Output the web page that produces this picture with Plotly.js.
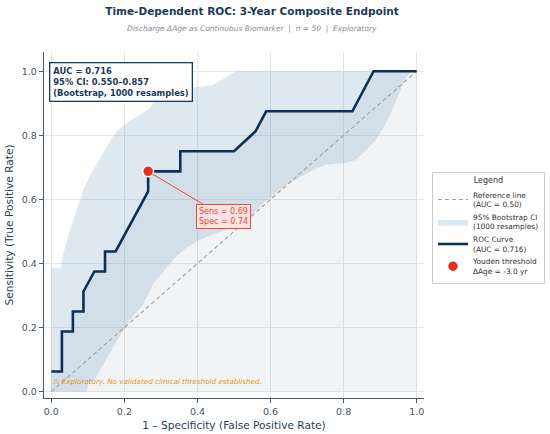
<!DOCTYPE html>
<html>
<head>
<meta charset="utf-8">
<script src="https://cdn.plot.ly/plotly-3.0.1.min.js"></script>
<style>html,body{margin:0;padding:0;background:#fff;}#chart{width:550px;height:434px;}</style>
</head>
<body>
<div id="chart"></div>
<script>
// ROC curve (FPR, TPR)
const rocFpr = [0.0, 0.029, 0.029, 0.059, 0.059, 0.088, 0.088, 0.118, 0.147, 0.147, 0.176, 0.265, 0.265, 0.353, 0.353, 0.500, 0.559, 0.588, 0.824, 0.882, 1.0];
const rocTpr = [0.0625, 0.0625, 0.1875, 0.1875, 0.25, 0.25, 0.3125, 0.375, 0.375, 0.4375, 0.4375, 0.625, 0.6875, 0.6875, 0.75, 0.75, 0.8125, 0.875, 0.875, 1.0, 1.0];

// Bootstrap CI upper bound
const ciUpperX = [0.0, 0.027, 0.031, 0.036, 0.050, 0.070, 0.088, 0.107, 0.130, 0.152, 0.175, 0.198, 0.234, 0.270, 0.289, 0.320, 0.380, 0.440, 0.470, 0.490, 0.505, 1.0];
const ciUpperY = [0.385, 0.385, 0.42, 0.445, 0.50, 0.567, 0.63, 0.676, 0.723, 0.765, 0.807, 0.832, 0.858, 0.885, 0.921, 0.935, 0.947, 0.957, 0.975, 0.99, 1.0, 1.0];

// Bootstrap CI lower bound
const ciLowerX = [0.0, 0.0975, 0.10, 0.12, 0.135, 0.16, 0.19, 0.22, 0.25, 0.28, 0.31, 0.34, 0.37, 0.40, 0.44, 0.48, 0.52, 0.545, 0.57, 0.60, 0.635, 0.67, 0.71, 0.75, 0.80, 0.83, 0.855, 0.88, 0.90, 0.925, 0.95, 0.97, 0.985, 1.0];
const ciLowerY = [0.0, 0.0, 0.02, 0.04, 0.07, 0.12, 0.18, 0.23, 0.27, 0.34, 0.38, 0.42, 0.45, 0.47, 0.49, 0.505, 0.525, 0.548, 0.577, 0.607, 0.64, 0.662, 0.688, 0.708, 0.713, 0.722, 0.745, 0.775, 0.806, 0.858, 0.925, 0.98, 1.0, 1.0];

// Reference (chance) line
const refX = [0, 1];
const refY = [0, 1];

// Youden optimal point
const youdenFpr = [0.265];
const youdenTpr = [0.6875];
const youdenSens = 0.69;
const youdenSpec = 0.74;

const aucValue = 0.716;
const ciLow = 0.550;
const ciHigh = 0.857;

const tickVals = [0, 0.2, 0.4, 0.6, 0.8, 1.0];
const tickText = ['0.0', '0.2', '0.4', '0.6', '0.8', '1.0'];

const NAVY = '#0f2f55';
const FONT = 'DejaVu Sans, sans-serif';

const bandX = ciUpperX.concat(ciLowerX.slice().reverse());
const bandY = ciUpperY.concat(ciLowerY.slice().reverse());

const traces = [
  {x: rocFpr, y: rocTpr, type: 'scatter', mode: 'lines', fill: 'tozeroy',
   fillcolor: 'rgba(15,47,85,0.06)', line: {width: 0, color: 'rgba(0,0,0,0)'},
   showlegend: false, hoverinfo: 'skip'},
  {x: bandX, y: bandY, type: 'scatter', mode: 'lines', fill: 'toself',
   fillcolor: 'rgba(70,130,180,0.18)', line: {width: 0, color: 'rgba(70,130,180,0.18)'},
   name: '95% Bootstrap CI<br>(1000 resamples)', legendrank: 2},
  {x: refX, y: refY, type: 'scatter', mode: 'lines',
   line: {color: '#9aa0a6', width: 1.1, dash: '4px,3px'},
   name: 'Reference line<br>(AUC = 0.50)', legendrank: 1},
  {x: rocFpr, y: rocTpr, type: 'scatter', mode: 'lines',
   line: {color: NAVY, width: 2.6},
   name: 'ROC Curve<br>(AUC = ' + aucValue.toFixed(3) + ')', legendrank: 3},
  {x: youdenFpr, y: youdenTpr, type: 'scatter', mode: 'markers',
   marker: {color: '#e2321f', size: 11, line: {color: '#ffffff', width: 1.5}},
   name: 'Youden threshold<br>ΔAge = -3.0 yr', legendrank: 4}
];

const axisCommon = {
  tickvals: tickVals, ticktext: tickText,
  showgrid: true, gridcolor: '#e3e7ec', gridwidth: 1,
  zeroline: false, showline: true, linecolor: '#4a5a6b', linewidth: 1.3,
  ticks: 'outside', ticklen: 4, tickcolor: '#4a5a6b', tickwidth: 1,
  tickfont: {family: FONT, size: 9.5, color: '#4a5560'}
};

const layout = {
  width: 550, height: 434,
  margin: {l: 44, r: 126, t: 52, b: 36},
  paper_bgcolor: '#ffffff', plot_bgcolor: '#ffffff',
  font: {family: FONT},
  title: {text: '<b>Time-Dependent ROC: 3-Year Composite Endpoint</b>',
          font: {family: FONT, size: 10.5, color: '#1a3a5c'},
          x: 252 / 550, xanchor: 'center', xref: 'container',
          y: 1 - 11 / 434, yanchor: 'middle', yref: 'container'},
  xaxis: Object.assign({}, axisCommon, {
    range: [-0.02, 1.02],
    title: {text: '1 – Specificity (False Positive Rate)', standoff: 6,
            font: {family: FONT, size: 10.6, color: '#2c3e50'}}
  }),
  yaxis: Object.assign({}, axisCommon, {
    range: [-0.02, 1.06],
    title: {text: 'Sensitivity (True Positive Rate)', standoff: 6,
            font: {family: FONT, size: 10.6, color: '#2c3e50'}}
  }),
  showlegend: true,
  legend: {
    xref: 'container', yref: 'container',
    x: 432 / 550, y: 1 - 172 / 434, xanchor: 'left', yanchor: 'top',
    bgcolor: '#ffffff', bordercolor: '#c8ccd0', borderwidth: 1,
    font: {family: FONT, size: 7.4, color: '#333333'},
    title: {text: 'Legend', side: 'top center', font: {family: FONT, size: 8, color: '#333333'}},
    itemwidth: 30
  },
  annotations: [
    {xref: 'paper', yref: 'paper', x: 0.547, y: 1.0665, xanchor: 'center', yanchor: 'middle',
     text: '<i>Discharge ΔAge as Continuous Biomarker  |  n = 50  |  Exploratory</i>',
     showarrow: false, font: {family: FONT, size: 7.5, color: '#8a9096'}},
    {xref: 'paper', yref: 'paper', x: 0.013, y: 0.9725, xanchor: 'left', yanchor: 'top',
     align: 'left', showarrow: false,
     text: '<b>AUC = ' + aucValue.toFixed(3) + '<br>95% CI: ' + ciLow.toFixed(3) + '–' + ciHigh.toFixed(3) + '<br>(Bootstrap, 1000 resamples)</b>',
     font: {family: FONT, size: 8.4, color: '#1a3a5c'},
     bgcolor: '#ffffff', bordercolor: '#1a3a5c', borderwidth: 1.3, borderpad: 3},
    {xref: 'x', yref: 'y', x: youdenFpr[0], y: youdenTpr[0],
     ax: 75, ay: 45, axref: 'pixel', ayref: 'pixel',
     showarrow: true, arrowhead: 0, arrowwidth: 1, arrowcolor: '#e74c3c', standoff: 5,
     text: 'Sens = ' + youdenSens.toFixed(2) + '<br>Spec = ' + youdenSpec.toFixed(2),
     align: 'left', font: {family: FONT, size: 8, color: '#e74c3c'},
     bgcolor: '#fde3e1', bordercolor: '#e74c3c', borderwidth: 1, borderpad: 2},
    {xref: 'paper', yref: 'paper', x: 0.018, y: 0.049, xanchor: 'left', yanchor: 'middle',
     showarrow: false,
     text: '<i>⚠ Exploratory. No validated clinical threshold established.</i>',
     font: {family: FONT, size: 7.2, color: '#e8941f'}}
  ]
};

Plotly.newPlot('chart', traces, layout, {displayModeBar: false, staticPlot: true});
</script>
</body>
</html>
